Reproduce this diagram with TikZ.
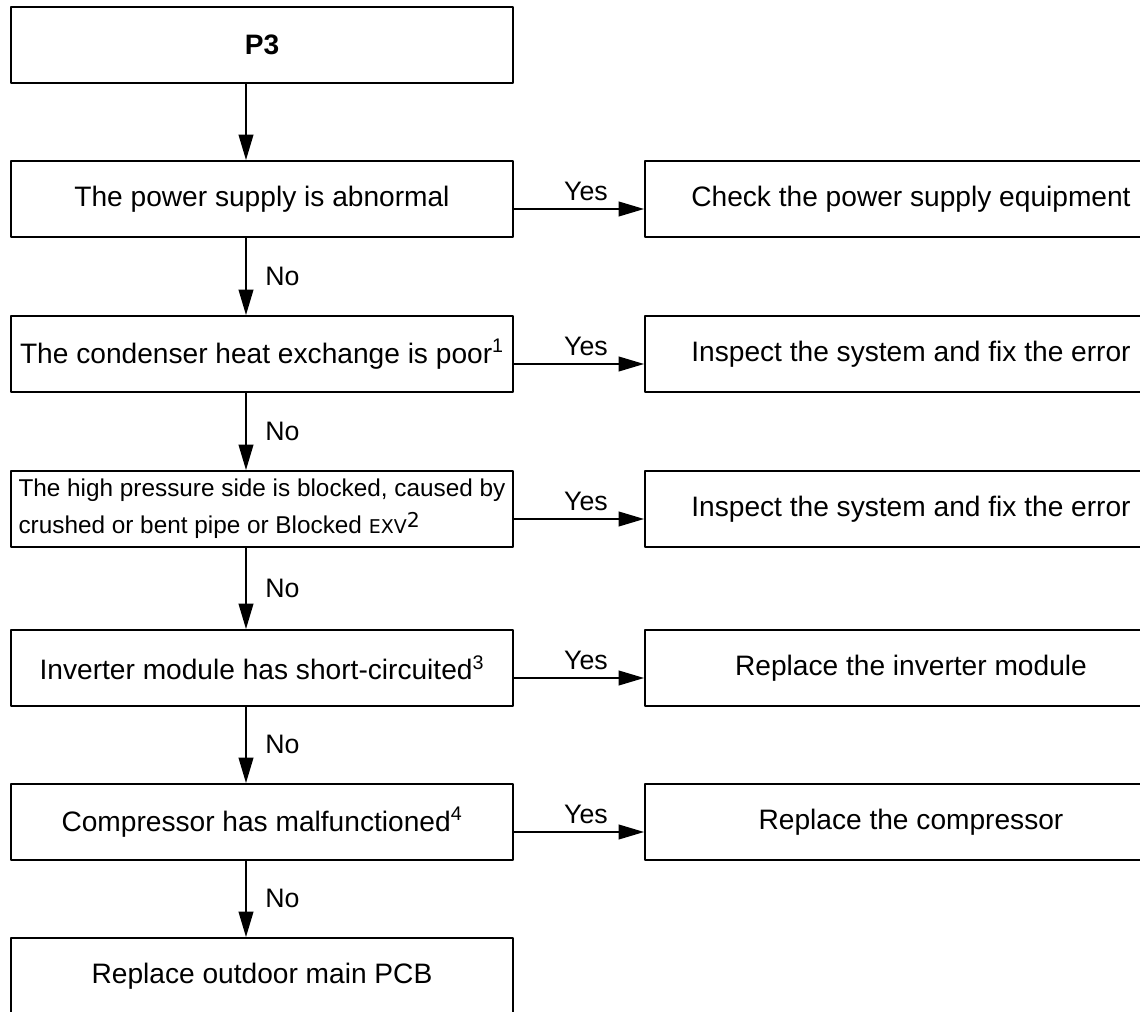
\documentclass[tikz,border=0pt]{standalone}
\usepackage{fontspec}
\setmainfont{Liberation Sans}
\newfontfamily\exvfont{DejaVu Sans}
\usetikzlibrary{arrows.meta,calc}
\begin{document}
\begin{tikzpicture}[x=0.025cm,y=-0.025cm,line join=round,
	>={Triangle[length=18pt,width=10.5pt]},
	box/.style={draw,line width=1.3pt,anchor=north west,minimum width=12.55cm,minimum height=1.9cm,inner sep=2pt,font=\fontsize{20}{24}\selectfont},
	fixbox/.style={box,minimum width=13.3cm},
	arr/.style={->,line width=1pt},
	lbl/.style={font=\fontsize{19}{22}\selectfont}]
	\useasboundingbox (0,0) rectangle (1140,1012);
	% question column
	\node[box] (p3) at (10,6) {\textbf{P3}};
	\node[box] (q1) at (10,160) {The power supply is abnormal};
	\node[box] (q2) at (10,315) {The condenser heat exchange is poor\textsuperscript{1}};
	\node[box,align=left,font=\fontsize{17.3}{26}\selectfont] (q3) at (10,470) {The high pressure side is blocked, caused by\\crushed or bent pipe or Blocked {\exvfont\fontsize{13.5}{12}\selectfont EXV}\raisebox{4.5pt}{\exvfont\fontsize{14.5}{13}\selectfont 2}};
	\node[box] (q4) at (10,629) {Inverter module has short-circuited\textsuperscript{3}};
	\node[box] (q5) at (10,783) {Compressor has malfunctioned\textsuperscript{4}};
	\node[box] (q6) at (10,937) {Replace outdoor main PCB};
	% fix column
	\node[fixbox] (f1) at (644,160) {Check the power supply equipment};
	\node[fixbox] (f2) at (644,315) {Inspect the system and fix the error};
	\node[fixbox] (f3) at (644,470) {Inspect the system and fix the error};
	\node[fixbox] (f4) at (644,629) {Replace the inverter module};
	\node[fixbox] (f5) at (644,783) {Replace the compressor};
	% arrows down
	\draw[arr] ($(p3.south west)+(236,0)$) -- ($(q1.north west)+(236,0)$);
	\foreach \a/\b in {q1/q2,q2/q3,q3/q4,q4/q5,q5/q6}
	\draw[arr] ($(\a.south west)+(236,0)$) -- node[lbl,right=10pt]{No} ($(\b.north west)+(236,0)$);
	% arrows right
	\foreach \a/\b in {q1/f1,q2/f2,q3/f3,q4/f4,q5/f5}
	\draw[arr] ($(\a.north east)+(0,49)$) -- node[lbl,above=2pt,xshift=5pt]{Yes} ($(\b.north west)+(0,49)$);
\end{tikzpicture}
\end{document}
